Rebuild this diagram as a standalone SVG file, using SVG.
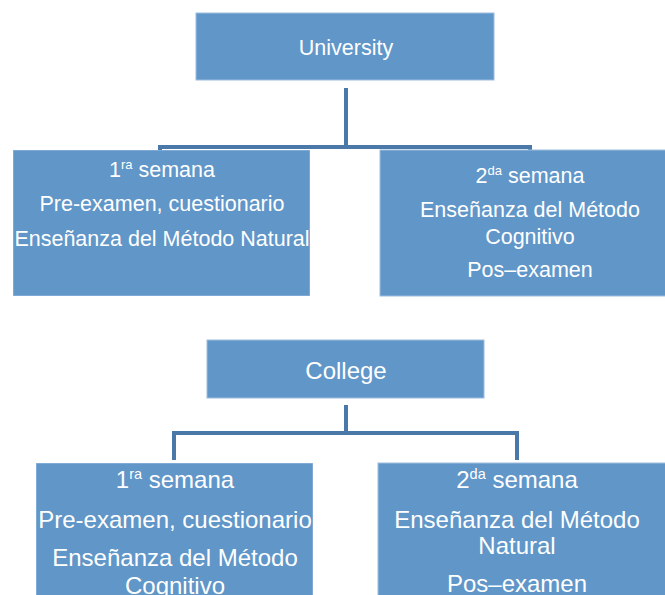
<svg xmlns="http://www.w3.org/2000/svg" width="665" height="595" viewBox="0 0 665 595">
<style>
.box{fill:#6096c8;stroke:#9dbde0;stroke-width:1}
.t{fill:#ffffff;font-family:"Liberation Sans",Arial,sans-serif;text-anchor:middle}
.s{font-size:21.5px}
.b{font-size:24px}
.sup{font-size:13px}
.supb{font-size:14.5px}
.con{fill:none;stroke:#4a78a8;stroke-width:4;stroke-linejoin:miter}
</style>
<defs>
<clipPath id="c1"><rect x="13" y="150" width="297" height="146"/></clipPath>
<clipPath id="c3"><rect x="36" y="463" width="277" height="132"/></clipPath>
</defs>
<rect width="665" height="595" fill="#ffffff"/>
<g id="connectors">
<path class="con" d="M346 88 V147 M160 183 V147 H530 V183"/>
<path class="con" d="M346 405 V433 M174 460 V433 H517 V460"/>
</g>
<g id="university">
<rect class="box" x="196" y="13" width="298" height="67"/>
<text class="t s" x="346" y="55">University</text>
</g>
<g id="uni-week1" clip-path="url(#c1)">
<rect class="box" x="13" y="150" width="297" height="146"/>
<text class="t s" x="162" y="177">1<tspan class="sup" dy="-8">ra</tspan><tspan dy="8"> semana</tspan></text>
<text class="t s" x="162" y="211">Pre-examen, cuestionario</text>
<text class="t s" x="162" y="246">Enseñanza del Método Natural</text>
</g>
<g id="uni-week2">
<rect class="box" x="380" y="150" width="290" height="146"/>
<text class="t s" x="530" y="183">2<tspan class="sup" dy="-8">da</tspan><tspan dy="8"> semana</tspan></text>
<text class="t s" x="530" y="217">Enseñanza del Método</text>
<text class="t s" x="530" y="244">Cognitivo</text>
<text class="t s" x="530" y="277">Pos–examen</text>
</g>
<g id="college">
<rect class="box" x="207" y="340" width="277" height="58"/>
<text class="t b" x="346" y="379">College</text>
</g>
<g id="col-week1" clip-path="url(#c3)">
<rect class="box" x="36" y="463" width="277" height="140"/>
<text class="t b" x="175" y="488">1<tspan class="supb" dy="-9">ra</tspan><tspan dy="9"> semana</tspan></text>
<text class="t b" x="175" y="528">Pre-examen, cuestionario</text>
<text class="t b" x="175" y="566">Enseñanza del Método</text>
<text class="t b" x="175" y="594">Cognitivo</text>
</g>
<g id="col-week2">
<rect class="box" x="378" y="463" width="292" height="140"/>
<text class="t b" x="517" y="488">2<tspan class="supb" dy="-9">da</tspan><tspan dy="9"> semana</tspan></text>
<text class="t b" x="517" y="528">Enseñanza del Método</text>
<text class="t b" x="517" y="554">Natural</text>
<text class="t b" x="517" y="592">Pos–examen</text>
</g>
</svg>
